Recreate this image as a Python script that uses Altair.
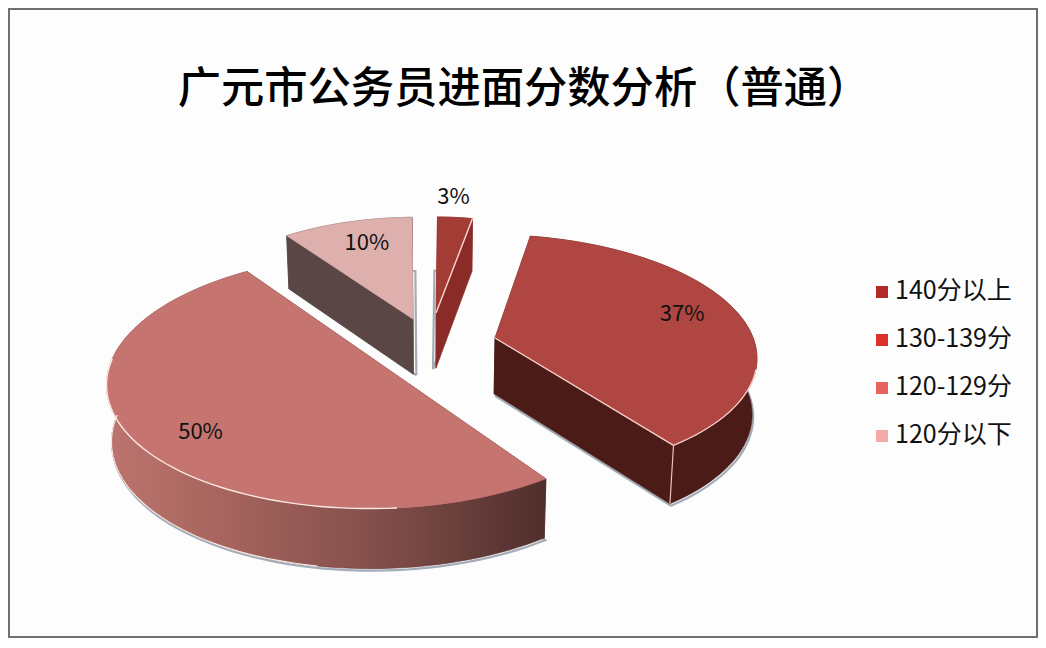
import math
import altair as alt
import pandas as pd

TITLE = "广元市公务员进面分数分析（普通）"
categories = ["140分以上", "130-139分", "120-129分", "120分以下"]
values = [3, 37, 50, 10]
legend_colors = ["#B32B27", "#DC302C", "#E8625E", "#F4A9A9"]

# ---- layout of the tilted pie (pixels in the page)
ORIGIN = 8
CX, CY, A, B, P = 435.0, 346.0, 258.0, 120.0, 0.14
START = -2.0
WALL = 56.0
WALL_GROW = 0.025
SQUEEZE = 0.015
EXPLODE = [(1, -33), (60, -8), (-56, 17), (-22, -27)]
ROTATE = [2.5, 2, 3, 1]
RADIUS = [(0.85, 0.98), (1.01, 1.0), (1.02, 1.0), (0.95, 1.03)]
LABEL_R = [1.22, 0.79, 0.80, 0.77]
LABEL_TURN = [-2, -3, -5, 3]
SHADOW = [(-3, 1), (1, 2), (1, 2), (3, 1)]
TOP = ["#A43C36", "#B04642", "#C5746F", "#DDB0AE"]
SIDE = ["#8A2B28", "#4A1B17", "#5B3230", "#5A4644"]


def to_screen(u, v):
    w = 1 - P * v
    return CX + A * u / w, CY + B * v / w


def to_disc(x, y):
    xn, yn = (x - CX) / A, (y - CY) / B
    v = yn / (1 + P * yn)
    return xn * (1 - P * v), v


def on_rim(apex, bearing, rx=1.0, ry=1.0):
    t = math.radians(bearing)
    return to_screen(apex[0] + rx * math.sin(t), apex[1] - ry * math.cos(t))


def drop(pt):
    height = WALL + (pt[1] - CY) * WALL_GROW
    return pt[0] - (pt[0] - CX) * SQUEEZE, pt[1] + height


def rim(apex, a0, a1, radius):
    n = max(2, int(abs(a1 - a0) / 2))
    return [on_rim(apex, a0 + (a1 - a0) * i / n, *radius) for i in range(n + 1)]


def shifted(pts):
    return [[round(x - ORIGIN, 2), round(y - ORIGIN, 2)] for x, y in pts]


def polygon(pts):
    ring = shifted(pts)
    ring.append(ring[0])
    return {"type": "Feature", "properties": {}, "geometry": {"type": "Polygon", "coordinates": [ring]}}


def line(pts):
    return {"type": "Feature", "properties": {}, "geometry": {"type": "LineString", "coordinates": shifted(pts)}}


def shape(feature, **mark):
    return (
        alt.Chart(alt.Data(values=[feature]))
        .mark_geoshape(**mark)
        .project(type="identity", scale=1, translate=[0, 0])
    )


def fill_shape(feature, color):
    return shape(feature, fill=color, stroke=color if isinstance(color, str) else "#5B3230", strokeWidth=0.6)


def stroke_shape(pts, color, width):
    return shape(line(pts), filled=False, stroke=color, strokeWidth=width)


wall_gradient = alt.LinearGradient(
    gradient="linear", x1=0, x2=1, y1=0, y2=0,
    stops=[
        alt.GradientStop(color="#BC756E", offset=0),
        alt.GradientStop(color="#A3625B", offset=0.3),
        alt.GradientStop(color="#85504C", offset=0.6),
        alt.GradientStop(color="#4F2E2C", offset=1),
    ],
)

layers = [
    alt.Chart(pd.DataFrame({"a": [0]})).mark_rect(fill="#FEFDFE", stroke="#6F6F6F", strokeWidth=2).encode(
        x=alt.value(1), x2=alt.value(1029), y=alt.value(1), y2=alt.value(629)
    )
]

angle = START
labels = []
for i, val in enumerate(values):
    span = val * 3.6
    a0, a1 = angle + ROTATE[i], angle + ROTATE[i] + span
    mid = (a0 + a1) / 2
    angle += span
    apex = to_disc(CX + EXPLODE[i][0], CY + EXPLODE[i][1])
    centre = to_screen(*apex)
    arc = rim(apex, a0, a1, RADIUS[i])
    s0, s1 = arc[0], arc[-1]

    # grey trace of the base
    base = [drop(centre)] + [drop(p) for p in arc] + [drop(centre)]
    layers.append(stroke_shape([(x + SHADOW[i][0], y + SHADOW[i][1]) for x, y in base], "#A3ACB7", 2.2))

    # side walls, then the rim wall, then the top
    side = SIDE[i]
    layers.append(fill_shape(polygon([centre, s0, drop(s0), drop(centre)]), side))
    layers.append(fill_shape(polygon([centre, s1, drop(s1), drop(centre)]), side))
    rim_fill = wall_gradient if i == 2 else side
    layers.append(fill_shape(polygon(arc + [drop(p) for p in reversed(arc)]), rim_fill))
    layers.append(fill_shape(polygon([centre] + arc), TOP[i]))

    if i == 0:
        layers.append(stroke_shape([centre, s1], "#F6D9D2", 1.4))
    if i == 1:
        layers.append(stroke_shape([centre, s1], "#F6D0C6", 1.3))
        layers.append(stroke_shape(rim(apex, 105, a1, RADIUS[i]), "#F6D0C6", 1.3))
        layers.append(stroke_shape([s1, drop(s1)], "#E8C4BC", 1.2))
    if i == 2:
        layers.append(stroke_shape(rim(apex, a0 + 30, 272, RADIUS[i]), "#FBE7E2", 1.4))
        layers.append(stroke_shape([drop(p) for p in rim(apex, 190, 272, RADIUS[i])], "#FBE7E2", 1.2))

    r = LABEL_R[i]
    lx, ly = on_rim(apex, mid + LABEL_TURN[i], r, r)
    labels.append({"label": f"{val}%", "x": lx - ORIGIN, "y": ly - ORIGIN})

text_font = "Noto Sans CJK SC"

pct = alt.Chart(pd.DataFrame(labels)).mark_text(
    font=text_font, fontSize=22, color="#111111", align="center", baseline="middle"
).encode(
    x=alt.X("x:Q", scale=None), y=alt.Y("y:Q", scale=None), text="label:N"
)

legend_df = pd.DataFrame({"cat": categories})
legend_y = alt.Y(
    "cat:N", axis=None, title=None,
    scale=alt.Scale(type="point", domain=categories, range=[283, 427], padding=0),
)
legend_marks = alt.Chart(legend_df).mark_square(size=144, opacity=1, filled=True).encode(
    x=alt.value(874),
    y=alt.Y(
        "cat:N", axis=None, title=None,
        scale=alt.Scale(type="point", domain=categories, range=[284, 428], padding=0),
    ),
    color=alt.Color("cat:N", legend=None, scale=alt.Scale(domain=categories, range=legend_colors)),
)
legend_text = alt.Chart(legend_df).mark_text(
    font=text_font, fontSize=25, color="#111111", align="left", baseline="middle"
).encode(x=alt.value(887), y=legend_y, text="cat:N")

chart = (
    alt.layer(*layers, pct, legend_marks, legend_text)
    .resolve_scale(x="independent", y="independent")
    .properties(
        width=1030,
        height=630,
        padding=0,
        autosize=alt.AutoSizeParams(type="none"),
        title=alt.TitleParams(
            text=TITLE, font=text_font, fontSize=43.3, fontWeight=500, color="#000000",
            anchor="middle", dy=142, dx=1, baseline="alphabetic",
        ),
    )
    .configure_view(stroke=None)
)

chart.save("out.html", embed_options={"renderer": "svg", "actions": False})
